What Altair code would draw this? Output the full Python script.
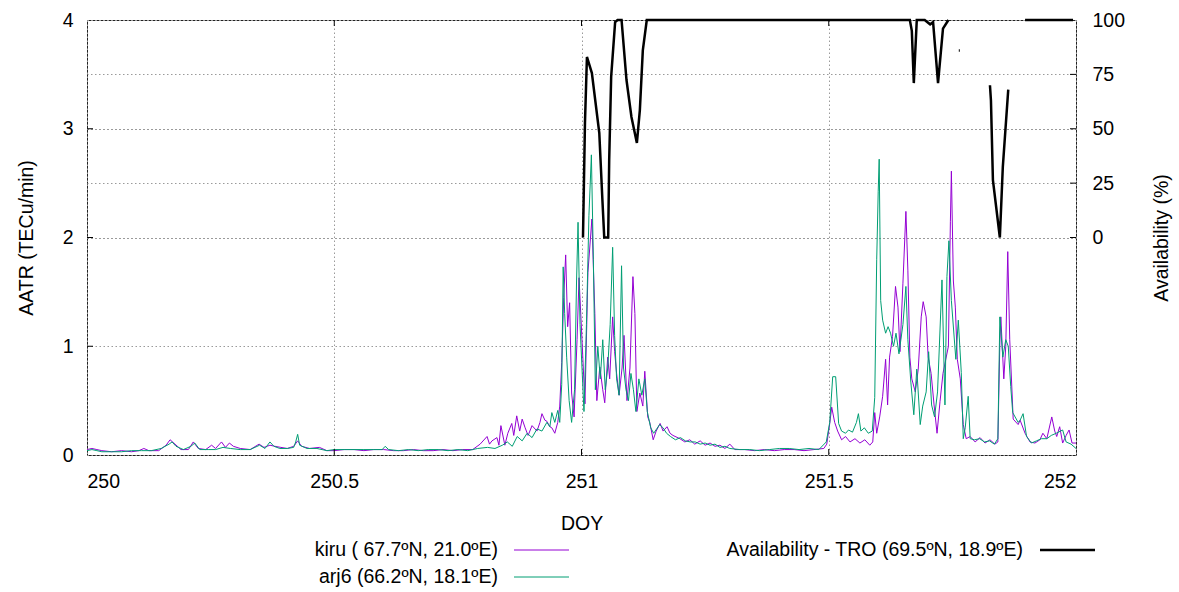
import altair as alt
import pandas as pd

FONT = "Liberation Sans"
FS = 19.5

# ---------------- data ----------------
kiru_doy = [250.000, 250.010, 250.020, 250.030, 250.050, 250.070, 250.090, 250.105, 250.115, 250.125,
            250.145, 250.160, 250.168, 250.178, 250.190, 250.205, 250.215, 250.225, 250.240, 250.252,
            250.260, 250.272, 250.280, 250.288, 250.296, 250.310, 250.330, 250.348, 250.358, 250.370,
            250.380, 250.392, 250.405, 250.418, 250.426, 250.434, 250.450, 250.470, 250.485, 250.500,
            250.520, 250.540, 250.560, 250.580, 250.600, 250.620, 250.640, 250.660, 250.680, 250.700,
            250.720, 250.740, 250.760, 250.780, 250.795,
            250.809, 250.814, 250.819, 250.829, 250.833, 250.837, 250.845, 250.851, 250.859, 250.863,
            250.869, 250.875, 250.880, 250.886, 250.892, 250.900, 250.910, 250.916, 250.920, 250.926,
            250.930, 250.936, 250.940, 250.946, 250.952, 250.956, 250.960, 250.964, 250.968, 250.972,
            250.976, 250.980, 250.985, 250.991, 250.995, 251.001, 251.007, 251.013, 251.021, 251.027,
            251.031, 251.037, 251.043, 251.047, 251.053, 251.057, 251.063, 251.067, 251.071, 251.076,
            251.082, 251.086, 251.092, 251.098, 251.104, 251.108, 251.112, 251.118, 251.124, 251.128,
            251.134, 251.138, 251.145, 251.151, 251.159, 251.165, 251.173, 251.179, 251.185, 251.199,
            251.209, 251.219, 251.229, 251.240, 251.250, 251.260, 251.270, 251.280, 251.290, 251.300,
            251.310, 251.330, 251.350, 251.370, 251.390, 251.410, 251.430, 251.450, 251.470, 251.490,
            251.496, 251.502, 251.506, 251.512, 251.518, 251.526, 251.534, 251.543, 251.553, 251.563,
            251.573, 251.583, 251.589, 251.593, 251.597, 251.603, 251.609, 251.615, 251.619, 251.623,
            251.629, 251.635, 251.640, 251.644, 251.650, 251.656, 251.660, 251.664, 251.668, 251.675,
            251.681, 251.687, 251.691, 251.697, 251.701, 251.707, 251.713, 251.719, 251.725, 251.731,
            251.742, 251.746, 251.748, 251.752, 251.756, 251.760, 251.766, 251.772, 251.778, 251.786,
            251.796, 251.806, 251.816, 251.826, 251.836, 251.842, 251.846, 251.848, 251.854, 251.858,
            251.862, 251.866, 251.873, 251.883, 251.887, 251.897, 251.907, 251.917, 251.927, 251.933,
            251.941, 251.951, 251.957, 251.961, 251.967, 251.973, 251.980, 251.986, 251.992, 252.000]
kiru_aatr = [0.05, 0.06, 0.05, 0.04, 0.03, 0.04, 0.03, 0.04, 0.06, 0.04,
             0.04, 0.09, 0.14, 0.10, 0.05, 0.05, 0.12, 0.06, 0.05, 0.09,
             0.06, 0.12, 0.07, 0.11, 0.08, 0.06, 0.05, 0.10, 0.07, 0.09,
             0.08, 0.07, 0.06, 0.08, 0.13, 0.08, 0.06, 0.07, 0.04, 0.04,
             0.05, 0.05, 0.04, 0.05, 0.05, 0.04, 0.04, 0.05, 0.04, 0.04,
             0.05, 0.04, 0.05, 0.05, 0.10,
             0.17, 0.10, 0.13, 0.16, 0.09, 0.27, 0.09, 0.20, 0.29, 0.18,
             0.36, 0.22, 0.33, 0.25, 0.18, 0.27, 0.22, 0.30, 0.38, 0.32,
             0.31, 0.26, 0.25, 0.20, 0.30, 0.45, 0.85, 1.45, 1.84, 1.18,
             1.40, 0.57, 0.35, 1.06, 1.63, 1.06, 0.47, 1.68, 2.17, 1.30,
             0.50, 0.81, 0.60, 0.48, 0.90, 0.70, 1.27, 0.95, 0.75, 0.55,
             0.80, 1.10, 0.50, 0.80, 1.64, 1.30, 0.40, 0.57, 0.45, 0.77,
             0.35, 0.30, 0.14, 0.22, 0.29, 0.22, 0.26, 0.20, 0.18, 0.15,
             0.12, 0.14, 0.10, 0.13, 0.09, 0.11, 0.08, 0.09, 0.06, 0.10,
             0.05, 0.05, 0.04, 0.05, 0.04, 0.05, 0.05, 0.04, 0.05, 0.06,
             0.10, 0.29, 0.44, 0.30, 0.22, 0.14, 0.17, 0.12, 0.15, 0.11,
             0.14, 0.09, 0.12, 0.39, 0.20, 0.35, 0.54, 0.88, 0.46, 0.90,
             1.09, 1.55, 1.36, 0.95, 1.58, 2.24, 1.70, 0.90, 0.70, 0.58,
             0.79, 1.27, 1.41, 1.27, 0.90, 0.75, 0.46, 0.20, 0.49, 0.75,
             1.00, 2.15, 2.61, 1.60, 1.36, 0.88, 0.70, 0.28, 0.15, 0.17,
             0.12, 0.16, 0.11, 0.14, 0.10, 0.12, 1.03, 1.27, 0.70, 1.00,
             1.87, 1.06, 0.33, 0.28, 0.32, 0.20, 0.12, 0.11, 0.14, 0.20,
             0.15, 0.35, 0.22, 0.17, 0.26, 0.11, 0.18, 0.23, 0.11, 0.11]

arj6_doy = [250.000, 250.010, 250.020, 250.030, 250.050, 250.070, 250.090, 250.110, 250.130, 250.150,
            250.166, 250.172, 250.180, 250.195, 250.210, 250.218, 250.228, 250.245, 250.260, 250.275,
            250.290, 250.310, 250.330, 250.349, 250.360, 250.370, 250.378, 250.390, 250.405, 250.418,
            250.422, 250.426, 250.430, 250.445, 250.465, 250.485, 250.500, 250.520, 250.540, 250.560,
            250.580, 250.597, 250.603, 250.610, 250.630, 250.650, 250.670, 250.690, 250.710, 250.730,
            250.750, 250.770, 250.790,
            250.810, 250.825, 250.840, 250.850, 250.860, 250.870, 250.880, 250.890, 250.900, 250.910,
            250.920, 250.930, 250.936, 250.940, 250.946, 250.952, 250.956, 250.960, 250.963, 250.966,
            250.970, 250.975, 250.980, 250.986, 250.990, 250.993, 250.997, 251.001, 251.005, 251.010,
            251.015, 251.020, 251.024, 251.028, 251.033, 251.038, 251.043, 251.048, 251.053, 251.058,
            251.063, 251.067, 251.071, 251.076, 251.081, 251.085, 251.090, 251.095, 251.100, 251.105,
            251.110, 251.116, 251.122, 251.128, 251.133, 251.140, 251.146, 251.152, 251.158, 251.165,
            251.172, 251.180, 251.190, 251.200, 251.210, 251.220, 251.230, 251.240, 251.250, 251.260,
            251.270, 251.280, 251.290, 251.300, 251.320, 251.340, 251.360, 251.380, 251.400, 251.420,
            251.440, 251.460, 251.480, 251.495, 251.502, 251.508, 251.514, 251.520, 251.526, 251.534,
            251.540, 251.548, 251.556, 251.560, 251.565, 251.572, 251.580, 251.588, 251.593, 251.597,
            251.600, 251.602, 251.605, 251.609, 251.615, 251.620, 251.625, 251.631, 251.636, 251.642,
            251.650, 251.656, 251.660, 251.666, 251.672, 251.678, 251.685, 251.690, 251.697, 251.702,
            251.708, 251.714, 251.720, 251.729, 251.735, 251.739, 251.743, 251.748, 251.757, 251.762,
            251.768, 251.772, 251.776, 251.782, 251.786, 251.795, 251.805, 251.815, 251.825, 251.835,
            251.842, 251.846, 251.852, 251.858, 251.863, 251.868, 251.872, 251.883, 251.887, 251.893,
            251.900, 251.910, 251.920, 251.930, 251.941, 251.950, 251.960, 251.973, 251.980, 251.990,
            252.000]
arj6_aatr = [0.04, 0.05, 0.04, 0.03, 0.03, 0.03, 0.04, 0.04, 0.04, 0.06,
             0.10, 0.12, 0.08, 0.05, 0.08, 0.11, 0.05, 0.05, 0.05, 0.07,
             0.06, 0.05, 0.05, 0.09, 0.06, 0.12, 0.08, 0.06, 0.06, 0.07,
             0.12, 0.19, 0.09, 0.06, 0.06, 0.04, 0.05, 0.05, 0.05, 0.05,
             0.05, 0.05, 0.08, 0.05, 0.04, 0.05, 0.04, 0.05, 0.05, 0.04,
             0.05, 0.04, 0.06,
             0.07, 0.06, 0.09, 0.12, 0.08, 0.17, 0.13, 0.20, 0.16, 0.24,
             0.22, 0.30, 0.26, 0.39, 0.30, 0.41, 0.30, 0.65, 1.73, 1.30,
             0.90, 0.50, 0.30, 0.60, 1.60, 2.14, 1.20, 0.80, 0.40, 1.20,
             2.20, 2.76, 1.80, 0.60, 1.00, 0.70, 1.06, 0.60, 0.80, 1.20,
             1.91, 1.10, 0.70, 0.55, 1.74, 0.80, 0.60, 0.50, 0.75, 0.60,
             0.40, 0.70, 0.55, 0.70, 0.40, 0.25, 0.20, 0.24, 0.28, 0.25,
             0.20, 0.17, 0.14, 0.16, 0.13, 0.12, 0.12, 0.10, 0.11, 0.09,
             0.10, 0.07, 0.08, 0.06, 0.05, 0.05, 0.04, 0.05, 0.06, 0.06,
             0.05, 0.06, 0.05, 0.12, 0.30, 0.72, 0.72, 0.29, 0.22, 0.20,
             0.23, 0.21, 0.30, 0.38, 0.22, 0.25, 0.20, 0.22, 0.53, 1.80,
             2.42, 2.72, 1.42, 1.24, 1.12, 1.18, 1.12, 1.00, 1.12, 0.93,
             1.20, 1.55, 1.06, 0.67, 0.37, 0.79, 0.28, 0.45, 0.58, 0.95,
             0.46, 0.35, 0.58, 1.61, 0.46, 1.64, 1.97, 1.42, 0.88, 1.24,
             0.76, 0.15, 0.25, 0.54, 0.15, 0.14, 0.15, 0.12, 0.13, 0.10,
             0.15, 1.27, 0.90, 1.06, 1.00, 0.63, 0.39, 0.30, 0.32, 0.38,
             0.17, 0.11, 0.13, 0.15, 0.15, 0.18, 0.20, 0.23, 0.12, 0.10,
             0.06]

avail_doy = [251.003, 251.007, 251.011, 251.021, 251.036, 251.042, 251.046, 251.054, 251.056, 251.060,
             251.068, 251.073, 251.081, 251.091, 251.101, 251.112, 251.118, 251.124, 251.132, 251.664,
             251.668, 251.672, 251.678, 251.694, 251.705, 251.711, 251.721, 251.731, 251.742,
             251.763, 251.765,
             251.826, 251.828, 251.832, 251.846, 251.852, 251.863,
             251.897, 251.994]
avail_pct = [0, 52.6, 83, 75.6, 48, 18.5, 0, 0, 35.6, 74,
             99, 100, 100, 72.4, 55.4, 43.5, 58.6, 86, 100, 100,
             95, 71, 100, 100, 98, 99, 71, 96, 100,
             86, 86,
             70, 63, 26.4, 0, 32.4, 68,
             100, 100]
avail_seg = [1, 1, 1, 1, 1, 1, 1, 1, 1, 1,
             1, 1, 1, 1, 1, 1, 1, 1, 1, 1,
             1, 1, 1, 1, 1, 1, 1, 1, 1,
             2, 2,
             3, 3, 3, 3, 3, 3,
             4, 4]

x_ticks = [250, 250.5, 251, 251.5, 252]
y_ticks = [0, 1, 2, 3, 4]
avail_ticks = [0, 25, 50, 75, 100]
stations = ["kiru", "arj6"]
station_labels = ["kiru ( 67.7ºN, 21.0ºE)", "arj6 (66.2ºN, 18.1ºE)"]
station_colors = ["#9400d3", "#009e73"]
avail_label = "Availability - TRO (69.5ºN, 18.9ºE)"

# ---------------- tables ----------------
aatr_df = pd.concat([
    pd.DataFrame({"doy": kiru_doy, "aatr": kiru_aatr, "station": "kiru"}),
    pd.DataFrame({"doy": arj6_doy, "aatr": arj6_aatr, "station": "arj6"}),
], ignore_index=True)
avail_df = pd.DataFrame({"doy": avail_doy, "pct": avail_pct, "seg": avail_seg})

W, H = 989, 435
GRID = "#9a9a9a"
DASH = [1.5, 2.5]

xscale = alt.Scale(domain=[250, 252], nice=False, zero=False)
yscale = alt.Scale(domain=[0, 4], nice=False)
ascale = alt.Scale(domain=[-100, 100], nice=False)

xaxis = alt.Axis(values=x_ticks, format="~f", title="DOY", grid=True, gridDash=DASH,
                 gridColor=GRID, ticks=False, domain=False, labelPadding=17,
                 titlePadding=24)
yaxis = alt.Axis(values=y_ticks, format="d", title="AATR (TECu/min)", grid=True,
                 gridDash=DASH, gridColor=GRID, ticks=False, domain=False,
                 labelPadding=14, titleX=-51, titleY=H / 2, titleAngle=270,
                 titleBaseline="bottom", titleAlign="center")
aaxis = alt.Axis(orient="right", values=avail_ticks, format="d", title="Availability (%)",
                 grid=True, gridDash=DASH, gridColor=GRID, ticks=False, domain=False,
                 labelPadding=16, titleX=95, titleY=H / 2, titleAngle=270,
                 titleBaseline="bottom", titleAlign="center")

lines = alt.Chart(aatr_df).mark_line(strokeWidth=1).encode(
    x=alt.X("doy:Q", scale=xscale, axis=xaxis),
    y=alt.Y("aatr:Q", scale=yscale, axis=yaxis),
    color=alt.Color("station:N", scale=alt.Scale(domain=stations, range=station_colors),
                    legend=None, sort=stations),
    detail="station:N",
)

left_ticks = alt.Chart(pd.DataFrame({"aatr": y_ticks[1:-1]})).mark_rule(
    color="black", strokeWidth=1).encode(
    y=alt.Y("aatr:Q", scale=yscale, axis=yaxis), x=alt.value(0), x2=alt.value(6))

bx = pd.DataFrame({"doy": x_ticks[1:-1]})
bottom_ticks = alt.Chart(bx).mark_rule(color="black", strokeWidth=1).encode(
    x=alt.X("doy:Q", scale=xscale, axis=xaxis), y=alt.value(H - 6), y2=alt.value(H))
top_ticks = alt.Chart(bx).mark_rule(color="black", strokeWidth=1).encode(
    x=alt.X("doy:Q", scale=xscale, axis=xaxis), y=alt.value(0), y2=alt.value(6))

avail = alt.Chart(avail_df).mark_line(color="black", strokeWidth=2.5).encode(
    x=alt.X("doy:Q", scale=xscale, axis=xaxis),
    y=alt.Y("pct:Q", scale=ascale, axis=aaxis),
    detail="seg:N",
)
right_ticks = alt.Chart(pd.DataFrame({"pct": avail_ticks[:-1]})).mark_rule(
    color="black", strokeWidth=1).encode(
    y=alt.Y("pct:Q", scale=ascale, axis=aaxis), x=alt.value(W - 6), x2=alt.value(W))

# legend (gnuplot style, below the plot)
leg_df = pd.DataFrame({"label": station_labels, "station": stations})
av_df = pd.DataFrame({"label": [avail_label]})


def leg_text(df, x, y):
    return alt.Chart(df).mark_text(align="right", baseline="middle", font=FONT,
                                   fontSize=FS, color="black").encode(
        x=alt.value(x), y=alt.value(y), text="label:N")


def leg_line(df, color, x1, x2, y, w):
    return alt.Chart(df).mark_rule(strokeWidth=w, color=color).encode(
        x=alt.value(x1), x2=alt.value(x2), y=alt.value(y))


legend_layers = [
    leg_text(leg_df.iloc[[0]], 411, 530),
    leg_text(leg_df.iloc[[1]], 411, 557),
    leg_line(leg_df.iloc[[0]], station_colors[0], 427, 482, 530, 1),
    leg_line(leg_df.iloc[[1]], station_colors[1], 427, 482, 557, 1),
    leg_text(av_df, 936, 530),
    leg_line(av_df, "black", 953, 1008, 530, 2.5),
]

aatr_group = alt.layer(lines, left_ticks, bottom_ticks, top_ticks)
avail_group = alt.layer(avail, right_ticks)

chart = alt.layer(
    aatr_group, avail_group, *legend_layers
).resolve_scale(y="independent").properties(
    width=W, height=H,
    autosize=alt.AutoSizeParams(type="none"),
    padding={"left": 87, "top": 20, "right": 103, "bottom": 137},
    background="white",
).configure_view(
    stroke="#222222", strokeWidth=1
).configure_axis(
    labelFont=FONT, labelFontSize=FS, labelColor="black",
    titleFont=FONT, titleFontSize=FS, titleColor="black", titleFontWeight="normal",
)

chart.save("out.html", embed_options={"renderer": "svg", "actions": False})
